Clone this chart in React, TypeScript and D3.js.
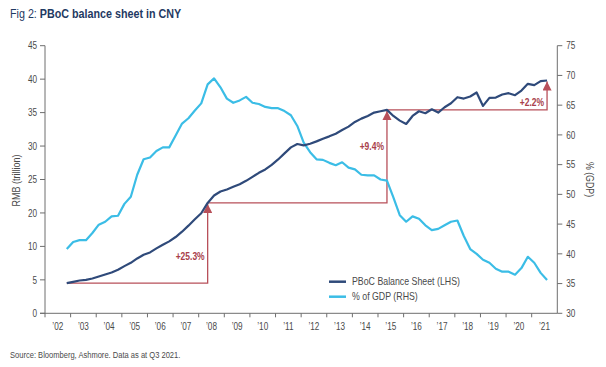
import React from "react";
import * as d3 from "d3";

// quarterly, 2002 Q4 .. 2021 Q3
const startYear = 2002;
const startQuarter = 4;

// PBoC balance sheet, RMB trillion (LHS)
const pboc = [
	4.5, 4.7, 4.9, 5.0, 5.2, 5.5, 5.8, 6.1, 6.5, 7.05,
	7.55, 8.2, 8.75, 9.1, 9.7, 10.5, 11.5, 12.8, 14.4, 16.2,
	18.1, 19.9, 21.5, 22.6, 23.2, 23.5, 23.9, 24.3, 24.8, 25.4,
	26.0, 26.5, 27.2, 28.0, 28.9, 29.8, 30.3, 30.1, 30.35, 30.7,
	31.1, 31.45, 31.85, 32.4, 32.9, 33.6, 34.1, 34.5, 35.0, 35.2,
	35.4, 34.5, 33.8, 33.3, 34.5, 35.2, 34.9, 35.5, 35.0, 35.8,
	36.4, 37.3, 37.1, 37.4, 38.0, 36.0, 37.2, 37.25, 37.7, 37.9,
	37.6, 38.3, 39.3, 39.1, 39.7, 39.8,
];

// PBoC balance sheet as % of GDP (RHS)
const pctGdp = [
	40.8, 42.0, 42.3, 42.3, 43.5, 44.9, 45.4, 46.3, 46.4, 48.4,
	49.6, 53.3, 55.9, 56.2, 57.3, 57.9, 57.9, 59.9, 61.9, 62.8,
	64.1, 65.3, 68.5, 69.5, 68.0, 66.1, 65.4, 65.8, 66.4, 65.4,
	65.2, 64.7, 64.5, 64.5, 64.0, 63.3, 61.5, 58.7, 57.1, 55.9,
	55.8, 55.3, 54.9, 55.4, 54.5, 54.2, 53.3, 53.2, 53.2, 52.5,
	52.3, 49.5, 46.5, 45.4, 46.3, 45.9, 44.8, 44.0, 44.2, 44.8,
	45.4, 45.6, 43.0, 40.8, 40.0, 39.0, 38.5, 37.5, 37.0, 37.0,
	36.5, 37.6, 39.5, 38.5, 36.8, 35.6,
];

// left axis labels as printed (there is no 15)
const leftTicks = [0, 5, 10, 20, 25, 30, 35, 40, 45];
const rightTicks = [30, 35, 40, 45, 50, 55, 60, 65, 70, 75];
const yearLabels = ["’02", "’03", "’04", "’05", "’06", "’07", "’08", "’09", "’10", "’11",
	"’12", "’13", "’14", "’15", "’16", "’17", "’18", "’19", "’20", "’21"];

// growth annotations: from point index -> to point index
const annFrom = [0, 22, 50];
const annTo = [22, 50, 75];
const annLabels = ["+25.3%", "+9.4%", "+2.2%"];
const annLabelRise = [27, 56, 7];

const seriesNames = ["PBoC Balance Sheet (LHS)", "% of GDP (RHS)"];

const NAVY = "#2f4a7a";
const CYAN = "#3bbde6";
const RED = "#b8505a";
const AXIS = "#6e6e6e";
const TXT = "#4a4a4a";
const FONT = "'Liberation Sans', Arial, sans-serif";

const W = 606, H = 367;
const plotL = 45, plotR = 557.3, plotT = 45.7, plotB = 313.3;

// condensed text: the original uses a narrow face, so squeeze horizontally
const Txt = ({ x, y, sx = 0.8, rot = 0, children, ...rest }: any) => (
	<text transform={`translate(${x},${y}) rotate(${rot}) scale(${sx},1)`} {...rest}>
		{children}
	</text>
);

export default function App() {
	const x = d3.scaleLinear().domain([startYear, startYear + 20]).range([plotL, plotR]);
	const step = (plotB - plotT) / (leftTicks.length - 1);
	const yL = d3.scaleLinear().domain(leftTicks).range(leftTicks.map((_, i) => plotB - i * step));
	const yR = d3.scaleLinear().domain([30, 75]).range([plotB, plotT]);

	const t = (i: number) => startYear + (startQuarter - 1) / 4 + 0.1 + i * 0.25;

	const lineL = d3.line<number>().x((_, i) => x(t(i))).y((d) => yL(d));
	const lineR = d3.line<number>().x((_, i) => x(t(i))).y((d) => yR(d));

	const boundaries = d3.range(startYear + 1, startYear + 20);

	return (
		<svg width={W} height={H} style={{ position: "absolute", left: 0, top: 0, background: "#fff" }} fontFamily={FONT}>
			<defs>
				<marker id="arr" viewBox="0 0 10 10" refX="10" refY="5" markerWidth="7" markerHeight="7" orient="auto">
					<path d="M0,0 L10,5 L0,10 z" fill={RED} />
				</marker>
			</defs>

			{/* title */}
			<Txt x={10} y={18} sx={0.86} fontSize={12.5} fill="#1f3a63">
				<tspan>Fig 2: </tspan>
				<tspan fontWeight="bold">PBoC balance sheet in CNY</tspan>
			</Txt>

			{/* left axis */}
			<line x1={plotL} x2={plotL} y1={plotT} y2={plotB + 4} stroke={AXIS} />
			{leftTicks.map((v) => (
				<g key={"l" + v}>
					<line x1={plotL - 5} x2={plotL} y1={yL(v)} y2={yL(v)} stroke={AXIS} />
					<Txt x={plotL - 8} y={yL(v)} sx={0.78} dy="0.35em" textAnchor="end" fontSize={10.5} fill={TXT}>{v}</Txt>
				</g>
			))}
			<Txt x={16} y={(plotT + plotB) / 2 + 1} rot={-90} sx={0.9} textAnchor="middle" dy="0.35em" fontSize={10} fill={TXT}>
				RMB (trillion)
			</Txt>

			{/* right axis */}
			<line x1={plotR} x2={plotR} y1={plotT} y2={plotB} stroke={AXIS} />
			{rightTicks.map((v) => (
				<g key={"r" + v}>
					<line x1={plotR} x2={plotR + 5} y1={yR(v)} y2={yR(v)} stroke={AXIS} />
					<Txt x={plotR + 9} y={yR(v)} sx={0.78} dy="0.35em" fontSize={10.5} fill={TXT}>{v}</Txt>
				</g>
			))}
			<Txt x={590} y={(plotT + plotB) / 2} rot={90} sx={0.88} textAnchor="middle" dy="0.35em" fontSize={10} fill={TXT}>
				% (GDP)
			</Txt>

			{/* bottom axis */}
			<line x1={plotL - 5} x2={plotR} y1={plotB} y2={plotB} stroke={AXIS} />
			{boundaries.map((yr) => (
				<line key={"b" + yr} x1={x(yr)} x2={x(yr)} y1={plotB} y2={plotB + 4} stroke={AXIS} />
			))}
			{yearLabels.map((lab, i) => (
				<Txt key={lab} x={x(startYear + i + 0.5)} y={plotB + 17} sx={0.78} textAnchor="middle" fontSize={10.5} fill={TXT}>{lab}</Txt>
			))}

			{/* annotations */}
			{annFrom.map((f, k) => {
				const x0 = x(t(f));
				const x1 = x(t(annTo[k]));
				const y0 = yL(pboc[f]);
				const y1 = yL(pboc[annTo[k]]);
				return (
					<g key={"a" + k}>
						<polyline points={`${x0},${y0} ${x1},${y0} ${x1},${y1 + 1}`} fill="none" stroke={RED} strokeWidth={1.3} markerEnd="url(#arr)" />
						<Txt x={x1 - 3} y={y0 - annLabelRise[k]} sx={0.85} dy="0.35em" textAnchor="end" fontSize={10} fontWeight="bold" fill="#a8404a">
							{annLabels[k]}
						</Txt>
					</g>
				);
			})}

			{/* series */}
			<path d={lineR(pctGdp) || ""} fill="none" stroke={CYAN} strokeWidth={2.2} strokeLinejoin="round" />
			<path d={lineL(pboc) || ""} fill="none" stroke={NAVY} strokeWidth={2.2} strokeLinejoin="round" />

			{/* legend */}
			{seriesNames.map((name, i) => (
				<g key={name} transform={`translate(329,${281.7 + i * 15})`}>
					<line x1={0} x2={17} y1={0} y2={0} stroke={i === 0 ? NAVY : CYAN} strokeWidth={2.5} />
					<Txt x={23} y={0} sx={0.88} dy="0.35em" fontSize={10} fill={TXT}>{name}</Txt>
				</g>
			))}

			{/* source */}
			<Txt x={10} y={358} sx={0.84} fontSize={9} fill={TXT}>Source: Bloomberg, Ashmore. Data as at Q3 2021.</Txt>
		</svg>
	);
}
